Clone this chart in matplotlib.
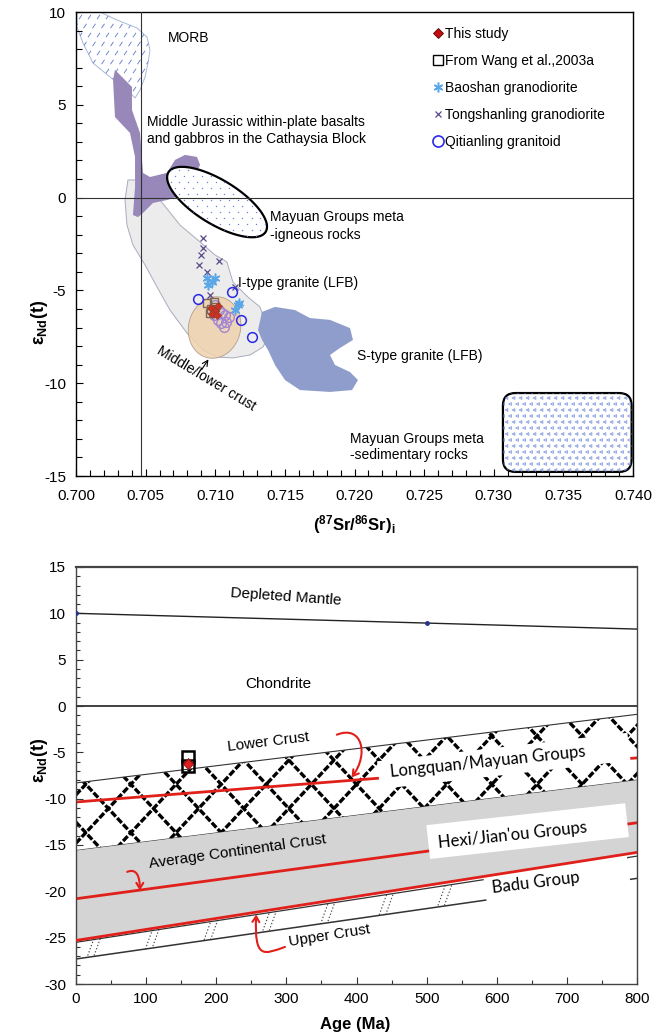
import numpy as np
import matplotlib
matplotlib.use('Agg')
import matplotlib.pyplot as plt
from matplotlib.patches import Polygon, FancyBboxPatch, Rectangle, FancyArrowPatch
from matplotlib.path import Path
from matplotlib.collections import LineCollection
from matplotlib.lines import Line2D
from matplotlib.transforms import Affine2D, IdentityTransform
from matplotlib.ticker import MultipleLocator, FormatStrFormatter

plt.rcParams['font.family'] = ['Liberation Sans', 'DejaVu Sans']
plt.rcParams['axes.unicode_minus'] = False
plt.rcParams['mathtext.fontset'] = 'custom'
plt.rcParams['mathtext.rm'] = 'Liberation Sans'
plt.rcParams['mathtext.bf'] = 'Liberation Sans:bold'
plt.rcParams['mathtext.it'] = 'Liberation Sans:italic'

# ---------------- data: top panel (Sr-Nd isotopes) ----------------
this_study_sr = [0.7097, 0.7100, 0.7102, 0.7098, 0.7101]
this_study_nd = [-5.95, -6.10, -5.85, -6.25, -6.35]
wang_sr = [0.7094, 0.7097, 0.7100, 0.7096, 0.7099]
wang_nd = [-5.70, -6.00, -5.90, -6.20, -5.60]
baoshan_sr = [0.7094, 0.7100, 0.7095, 0.7098, 0.7116, 0.7114, 0.7117]
baoshan_nd = [-4.33, -4.33, -4.71, -4.55, -5.79, -6.06, -5.68]
tong_sr = [0.7091, 0.7090, 0.7088, 0.7094, 0.7103, 0.7096, 0.7114, 0.7091]
tong_nd = [-2.72, -3.09, -3.63, -4.01, -3.42, -5.25, -4.82, -2.18]
qit_sr = [0.70876, 0.71120, 0.71185, 0.71264]
qit_nd = [-5.46, -5.09, -6.59, -7.51]
qit2_sr = [0.7100, 0.7103, 0.7099, 0.7102, 0.7104, 0.7106, 0.7108, 0.7107, 0.7110, 0.7105]
qit2_nd = [-5.80, -6.05, -6.35, -6.60, -6.75, -6.95, -6.70, -6.30, -6.45, -6.20]

morb_sr = [0.70007, 0.70172, 0.70294, 0.70438, 0.70510, 0.70531, 0.70517, 0.70496,
           0.70460, 0.70424, 0.70366, 0.70244, 0.70122, 0.70050, 0.70007]
morb_nd = [10.0, 10.0, 9.57, 9.14, 8.65, 7.95, 7.25, 6.50, 5.80, 5.37, 5.80, 6.50,
           7.25, 8.33, 9.19]
jur_sr = [0.70280, 0.70402, 0.70402, 0.70460, 0.70474, 0.70481, 0.70531, 0.70653,
          0.70711, 0.70783, 0.70869, 0.70891, 0.70819, 0.70725, 0.70653, 0.70553,
          0.70481, 0.70445, 0.70409, 0.70424, 0.70424, 0.70388, 0.70280, 0.70266]
jur_nd = [6.88, 5.96, 4.72, 3.48, 2.03, 1.33, 1.11, 1.33, 2.03, 2.30, 2.19, 1.76,
          0.68, 0.03, -0.13, -0.29, -0.83, -1.05, -0.94, 0.57, 2.19, 3.48, 4.34, 6.34]
itype_sr = [0.70373, 0.70496, 0.70603, 0.70747, 0.70891, 0.70998, 0.71084, 0.71127,
            0.71235, 0.71321, 0.71372, 0.71379, 0.71343, 0.71250, 0.71127, 0.71013,
            0.70912, 0.70797, 0.70675, 0.70582, 0.70496, 0.70409, 0.70366, 0.70352]
itype_nd = [0.95, 0.95, -0.13, -1.48, -2.39, -3.09, -3.47, -4.55, -5.36, -5.89,
            -6.97, -7.51, -8.05, -8.48, -8.64, -8.59, -8.21, -7.30, -6.06, -4.82,
            -3.63, -2.55, -1.48, -0.13]
stype_sr = [0.71307, 0.71336, 0.71429, 0.71573, 0.71680, 0.71824, 0.71968, 0.71989,
            0.71896, 0.71824, 0.71860, 0.71968, 0.72025, 0.71982, 0.71824, 0.71609,
            0.71501, 0.71429, 0.71379, 0.71336]
stype_nd = [-7.13, -6.16, -5.89, -6.06, -6.49, -6.59, -7.03, -7.67, -8.10, -8.48,
            -9.02, -9.40, -9.83, -10.37, -10.47, -10.37, -9.83, -9.02, -8.21, -7.67]
meta_ign_center = (0.71013, -0.24)      # ellipse, semi-axes in px / angle below
crust_center = (0.70995, -7.0)
meta_sed_sr = [0.73066, 0.7399]
meta_sed_nd = [-14.78, -10.53]
ref_sr = 0.7047

# ---------------- data: bottom panel (eNd vs age) ----------------
dm_age = [0, 500, 800]
dm_eps = [10.0, 8.95, 8.3]
band_age = [0, 800]
lc_top = [-8.3, -0.9]
lc_bot = [-15.6, -8.0]
lc_red = [-10.36, -5.6]
acc_red = [-20.8, -12.6]
acc_bot = [-25.3, -15.8]
uc_top = [-25.5, -16.2]
uc_bot = [-27.3, -18.6]
study_age = [160, 160]
study_eps = [-6.1, -6.3]
wang_age = [160, 160]
wang_eps = [-5.5, -6.5]

EPS_LABEL = '$\\mathbf{\u03b5_{Nd}(t)}$'

W, H = 665, 1036
fig = plt.figure(figsize=(W / 100, H / 100), dpi=100)
ax1 = fig.add_axes([76 / W, 1 - 476 / H, 557 / W, 464 / H])
ax2 = fig.add_axes([76 / W, 1 - 984 / H, 561 / W, 417 / H])

ax1.set_xlim(0.700, 0.740)
ax1.set_ylim(-15, 10)
ax2.set_xlim(0, 800)
ax2.set_ylim(-30, 15)


def lattice(ax, spacing, angle_deg, offset=0.0):
    bb = ax.bbox
    th = np.deg2rad(angle_deg)
    d = np.array([np.cos(th), np.sin(th)])
    n = np.array([-d[1], d[0]])
    c = np.array([bb.x0 + bb.width / 2, bb.y0 + bb.height / 2])
    R = np.hypot(bb.width, bb.height)
    segs = []
    for k in np.arange(-R, R, spacing):
        p = c + n * (k + offset)
        segs.append([p - d * R, p + d * R])
    return segs


def grid_points(ax, dx, dy, stagger=True):
    bb = ax.bbox
    pts = []
    for j, y in enumerate(np.arange(bb.y0, bb.y1, dy)):
        off = dx / 2 if (stagger and j % 2) else 0
        for x in np.arange(bb.x0 + off, bb.x1, dx):
            pts.append((x, y))
    return np.array(pts)


def ellipse_poly(ax, center, a, b, ang):
    cx, cy = ax.transData.transform(center)
    t = np.linspace(0, 2 * np.pi, 200)
    th = np.deg2rad(ang)
    x = a * np.cos(t) * np.cos(th) - b * np.sin(t) * np.sin(th) + cx
    y = a * np.cos(t) * np.sin(th) + b * np.sin(t) * np.cos(th) + cy
    return ax.transData.inverted().transform(np.column_stack([x, y]))


# ---------- top panel regions ----------
morb = Polygon(np.column_stack([morb_sr, morb_nd]), closed=True, facecolor='white',
               edgecolor='#a9b8d8', lw=0.7, zorder=1)
ax1.add_patch(morb)
dash_pts = grid_points(ax1, 9, 9)
dash_segs = [[(x - 1.5, y - 2.2), (x + 1.5, y + 2.2)] for x, y in dash_pts]
lcm = LineCollection(dash_segs, colors='#5a78c8', linewidths=0.6,
                     transform=IdentityTransform(), zorder=1.1)
ax1.add_collection(lcm, autolim=False)
lcm.set_clip_path(morb)

itype = Polygon(np.column_stack([itype_sr, itype_nd]), closed=True, facecolor='#ececec',
                edgecolor='#a7adbd', lw=0.7, zorder=1)
ax1.add_patch(itype)
jur = Polygon(np.column_stack([jur_sr, jur_nd]), closed=True, facecolor='#9788b9',
              edgecolor='none', zorder=1.5)
ax1.add_patch(jur)
stype = Polygon(np.column_stack([stype_sr, stype_nd]), closed=True, facecolor='#8e9dcb',
                edgecolor='none', zorder=1.5)
ax1.add_patch(stype)

mi = Polygon(ellipse_poly(ax1, meta_ign_center, 57, 22, -31.5), closed=True,
             facecolor='white', edgecolor='black', lw=1.6, zorder=2)
ax1.add_patch(mi)
dpts = ax1.transData.inverted().transform(grid_points(ax1, 9, 6))
sc = ax1.scatter(dpts[:, 0], dpts[:, 1], s=1.0, color='#6a86dc', lw=0, zorder=2.1)
sc.set_clip_path(mi)

cr = Polygon(ellipse_poly(ax1, crust_center, 26, 31, -14 + 0), closed=True,
             facecolor='#efd2ad', edgecolor='#a89482', lw=0.6, alpha=0.85, zorder=2.5)
ax1.add_patch(cr)

ms_box = FancyBboxPatch((meta_sed_sr[0], meta_sed_nd[0]), meta_sed_sr[1] - meta_sed_sr[0],
                        meta_sed_nd[1] - meta_sed_nd[0],
                        boxstyle='round,pad=0,rounding_size=0.0009',
                        mutation_aspect=(25 / 0.04) * (557 / 464) / 1.0,
                        facecolor='white', edgecolor='black', lw=1.6, zorder=2)
ax1.add_patch(ms_box)
spts = ax1.transData.inverted().transform(grid_points(ax1, 7, 6))
sc2 = ax1.scatter(spts[:, 0], spts[:, 1], s=4, marker='<', facecolors='none',
                  edgecolors='#6f8ad8', linewidths=0.5, zorder=2.1)
sc2.set_clip_path(ms_box)

ax1.axvline(ref_sr, color='#333333', lw=0.8, zorder=3)
ax1.axhline(0, color='#333333', lw=0.8, zorder=3)

# points
ax1.plot(tong_sr, tong_nd, ls='none', marker='x', ms=4, mew=0.9, color='#5b4a8c', zorder=5)
ax1.plot(baoshan_sr, baoshan_nd, ls='none', marker=(6, 2, 0), ms=7, mew=1.1,
         color='#5aa6e6', zorder=5)
ax1.plot(qit2_sr, qit2_nd, ls='none', marker='o', ms=7, mfc='none', mew=1.0,
         mec='#a386d2', zorder=5)
ax1.plot(wang_sr, wang_nd, ls='none', marker='s', ms=6, mfc='none', mew=1.0,
         mec='#7a6654', zorder=5)
ax1.plot(this_study_sr, this_study_nd, ls='none', marker='D', ms=4, mfc='#d03020',
         mec='#8a4030', mew=0.5, zorder=6)
ax1.plot(qit_sr, qit_nd, ls='none', marker='o', ms=7, mfc='none', mew=1.1,
         mec='#2a2ae8', zorder=6)

# labels
tk = dict(fontsize=10, color='black', zorder=7)
ax1.text(0.70661, 8.60, 'MORB', va='center', ha='left', **tk)
ax1.text(0.7051, 3.62, 'Middle Jurassic within-plate basalts\nand gabbros in the Cathaysia Block',
         va='center', ha='left', linespacing=1.2, **tk)
ax1.text(0.71393, -1.53, 'Mayuan Groups meta\n-igneous rocks', va='center', ha='left',
         linespacing=1.3, **tk)
ax1.text(0.71163, -4.60, 'I-type granite (LFB)', va='center', ha='left', **tk)
ax1.text(0.72018, -8.53, 'S-type granite (LFB)', va='center', ha='left', **tk)
ax1.text(0.71968, -13.44, 'Mayuan Groups meta\n-sedimentary rocks', va='center', ha='left',
         linespacing=1.25, **tk)
ax1.text(0.70934, -9.77, 'Middle/lower crust', rotation=-31, rotation_mode='anchor',
         va='center', ha='center', **tk)
ax1.annotate('', xy=(0.70962, -8.59), xytext=(0.70891, -9.40),
             arrowprops=dict(arrowstyle='->', lw=0.8, color='black'), zorder=7)

# legend
handles = [
    Line2D([], [], ls='none', marker='D', ms=5, mfc='#c01010', mec='#600000', mew=0.6),
    Line2D([], [], ls='none', marker='s', ms=7, mfc='none', mec='black', mew=1.0),
    Line2D([], [], ls='none', marker=(6, 2, 0), ms=7, mew=1.1, color='#5aa6e6'),
    Line2D([], [], ls='none', marker='x', ms=4, mew=0.9, color='#5b4a8c'),
    Line2D([], [], ls='none', marker='o', ms=8, mfc='none', mec='#2a2ae8', mew=1.2),
]
labels = ['This study', 'From Wang et al.,2003a', 'Baoshan granodiorite',
          'Tongshanling granodiorite', 'Qitianling granitoid']
leg = ax1.legend(handles, labels, loc='upper left', bbox_to_anchor=(0.632, 0.980),
                 frameon=False, fontsize=10, handlelength=0.7, handletextpad=0.15,
                 labelspacing=0.93, borderaxespad=0)
leg.set_zorder(9)

# axes styling top
ax1.xaxis.set_major_locator(MultipleLocator(0.005))
ax1.xaxis.set_minor_locator(MultipleLocator(0.001))
ax1.yaxis.set_major_locator(MultipleLocator(5))
ax1.yaxis.set_minor_locator(MultipleLocator(1))
ax1.xaxis.set_major_formatter(FormatStrFormatter('%.3f'))
ax1.tick_params(which='both', direction='in', top=False, right=False, labelsize=11)
ax1.tick_params(axis='x', which='both', pad=9)
ax1.tick_params(axis='y', which='both', pad=7)
ax1.tick_params(which='major', length=5, width=0.8)
ax1.tick_params(which='minor', length=4, width=0.8)
for s in ax1.spines.values():
    s.set_linewidth(1.0)
ax1.set_xlabel(r'$\mathbf{(^{87}Sr/^{86}Sr)_i}$', fontsize=12)
ax1.xaxis.set_label_coords(0.5, -0.08)
ax1.set_ylabel(EPS_LABEL, fontsize=13)
ax1.yaxis.set_label_coords(-0.047, 0.33)

# ---------- bottom panel ----------
gap = np.array(band_age)

def band_poly(top, bot):
    return np.array([[gap[0], top[0]], [gap[1], top[1]], [gap[1], bot[1]], [gap[0], bot[0]]])

# upper crust band (white, dotted hatch)
uc = Polygon(band_poly(uc_top, uc_bot), closed=True, facecolor='white', edgecolor='none', zorder=1)
ax2.add_patch(uc)
segs = lattice(ax2, 52, 70) + lattice(ax2, 52, 70, offset=6)
hl = LineCollection(segs, colors='#444444', linewidths=0.8, linestyles=(0, (1.2, 1.8)),
                    transform=IdentityTransform(), zorder=1.1)
ax2.add_collection(hl, autolim=False)
hl.set_clip_path(uc)
ax2.plot(band_age, uc_top, color='#333333', lw=0.9, zorder=1.2)
ax2.plot(band_age, uc_bot, color='#333333', lw=1.1, zorder=1.2)

# lower crust band (diamond lattice)
lc = Polygon(band_poly(lc_top, lc_bot), closed=True, facecolor='white', edgecolor='none', zorder=1)
ax2.add_patch(lc)
dsegs = lattice(ax2, 33, 47) + lattice(ax2, 33, -47)
dl = LineCollection(dsegs, colors='black', linewidths=2.4, linestyles=(0, (2.0, 0.6)),
                    transform=IdentityTransform(), zorder=1.1)
ax2.add_collection(dl, autolim=False)
dl.set_clip_path(lc)
ax2.plot(band_age, lc_top, color='#333333', lw=0.8, zorder=1.2)
ax2.plot(band_age, lc_bot, color='#333333', lw=0.8, zorder=1.2)

# average continental crust (grey)
acc = Polygon(band_poly(lc_bot, acc_bot), closed=True, facecolor='#d4d4d4', edgecolor='none', zorder=2)
ax2.add_patch(acc)

ax2.plot(band_age, lc_red, color='#e0201b', lw=2.0, zorder=2.5)
ax2.plot(band_age, acc_red, color='#e0201b', lw=2.0, zorder=2.5)
ax2.plot(band_age, acc_bot, color='#e0201b', lw=2.0, zorder=4)

# depleted mantle and chondrite
ax2.plot(dm_age, dm_eps, color='#222222', lw=1.0, zorder=3)
ax2.plot(dm_age[:2], dm_eps[:2], ls='none', marker='o', ms=2.5, color='#27348b', zorder=3.1)
ax2.axhline(0, color='#333333', lw=1.3, zorder=3)


def white_box(ax, anchor, w, h, ang, z):
    cx, cy = ax.transData.transform(anchor)
    tr = Affine2D().rotate_deg(ang).translate(cx, cy)
    r = Rectangle((-w / 2, -h / 2), w, h, facecolor='white', edgecolor='none',
                  transform=tr, zorder=z)
    ax.add_patch(r)


white_box(ax2, (610, -5.93), 252, 28, 6.5, 3)     # Longquan/Mayuan
white_box(ax2, (644, -13.5), 200, 34, 6.3, 3)     # Hexi/Jian'ou
white_box(ax2, (686, -18.9), 145, 40, 7.5, 1.5)   # Badu

# sample points
ax2.plot(wang_age, wang_eps, ls='none', marker='s', ms=8.5, mfc='none', mec='black', mew=1.8, zorder=6)
ax2.plot(study_age, study_eps, ls='none', marker='D', ms=5.5, mfc='#e02020', mec='#901010',
         mew=0.5, zorder=7)

# labels
t2 = dict(fontsize=11, color='black', zorder=8, rotation_mode='anchor', ha='center', va='center')
ax2.text(299, 11.76, 'Depleted Mantle', rotation=-4, **t2)
ax2.text(288, 2.37, 'Chondrite', rotation=0, **t2)
ax2.text(274, -3.88, 'Lower Crust', rotation=7, **t2)
ax2.text(230, -15.75, 'Average Continental Crust', rotation=8, **t2)
ax2.text(362, -24.8, 'Upper Crust', rotation=9, **t2)
t3 = dict(fontsize=12, color='black', zorder=8, rotation_mode='anchor', ha='center',
          va='center', family=['Lato', 'DejaVu Sans'])
ax2.text(587, -6.04, 'Longquan/Mayuan Groups', rotation=6, **t3)
ax2.text(623, -13.92, "Hexi/Jian'ou Groups", rotation=6, **t3)
ax2.text(656, -19.1, 'Badu Group', rotation=7, **t3)

# red hand-drawn arrows
red = '#e0201b'
arrows = [
    [(372, -3.1), (408, -2.0), (418, -5.2), (393, -7.7)],
    [(73, -17.9), (86, -17.5), (91, -18.3), (91, -19.9)],
    [(298, -26.0), (268, -26.8), (254, -27.4), (257, -22.5)],
]
for pts in arrows:
    p = Path(pts, [Path.MOVETO, Path.CURVE4, Path.CURVE4, Path.CURVE4])
    ar = FancyArrowPatch(path=p, arrowstyle='->,head_length=4,head_width=2.5',
                         color=red, lw=1.5, zorder=8)
    ax2.add_patch(ar)

ax2.xaxis.set_major_locator(MultipleLocator(100))
ax2.xaxis.set_minor_locator(MultipleLocator(50))
ax2.yaxis.set_major_locator(MultipleLocator(5))
ax2.yaxis.set_minor_locator(MultipleLocator(1))
ax2.tick_params(which='both', direction='in', top=False, right=False, labelsize=11,
                color='#333333')
ax2.tick_params(axis='x', which='both', pad=6)
ax2.tick_params(axis='y', which='both', pad=7)
ax2.tick_params(which='major', length=5, width=0.8)
ax2.tick_params(which='minor', length=3, width=0.8)
for k, s in ax2.spines.items():
    s.set_linewidth(1.0)
    s.set_color('#444444')
ax2.spines['top'].set_linewidth(1.6)
ax2.set_xlabel('Age (Ma)', fontsize=12, fontweight='bold')
ax2.xaxis.set_label_coords(0.497, -0.08)
ax2.set_ylabel(EPS_LABEL, fontsize=13)
ax2.yaxis.set_label_coords(-0.047, 0.537)

fig.savefig('out.png', dpi=100)
